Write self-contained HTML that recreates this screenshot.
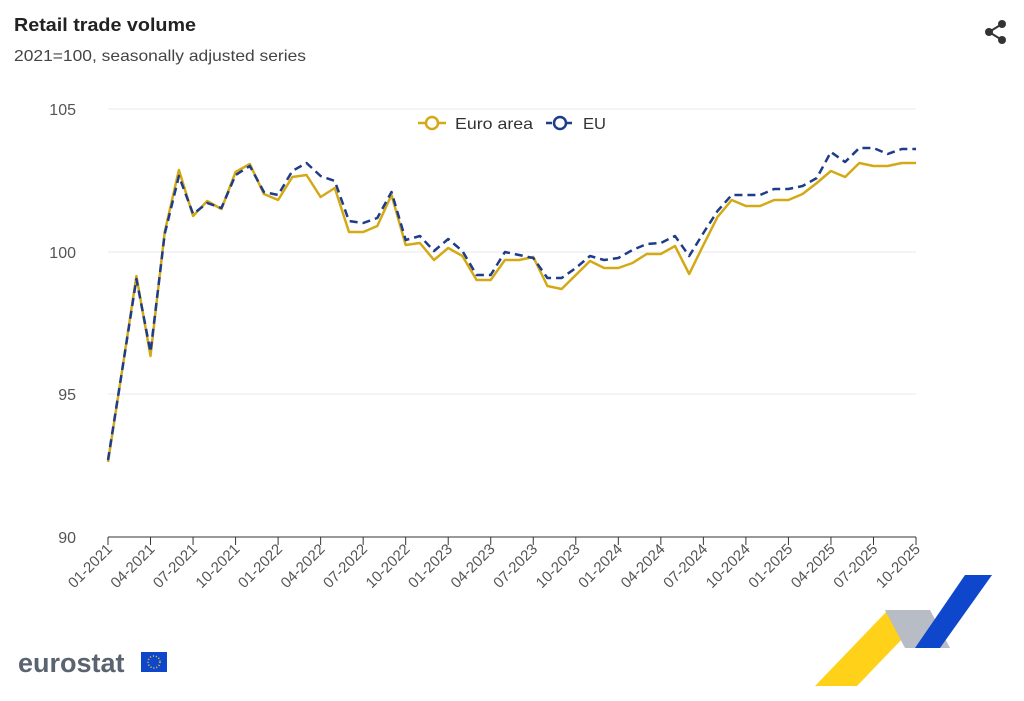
<!DOCTYPE html>
<html><head><meta charset="utf-8"><style>
body{margin:0;width:1024px;height:696px;background:#fff;font-family:"Liberation Sans",Arial,sans-serif;overflow:hidden}
</style></head><body>
<svg width="1024" height="696" viewBox="0 0 1024 696" xmlns="http://www.w3.org/2000/svg" font-family="Liberation Sans, Arial, sans-serif">
<text x="14" y="31" font-size="18" font-weight="bold" fill="#222" textLength="182" lengthAdjust="spacingAndGlyphs">Retail trade volume</text>
<text x="14" y="61" font-size="16" fill="#444" textLength="292" lengthAdjust="spacingAndGlyphs">2021=100, seasonally adjusted series</text>
<g fill="#333"><circle cx="1002" cy="24" r="4"/><circle cx="989" cy="32" r="4"/><circle cx="1002" cy="40" r="4"/></g>
<path d="M1002 24 L989 32 L1002 40" stroke="#333" stroke-width="2" fill="none"/>
<g stroke="#e6e9ef" stroke-width="1">
<line x1="108" y1="109" x2="916" y2="109"/><line x1="108" y1="252" x2="916" y2="252"/><line x1="108" y1="394" x2="916" y2="394"/>
</g>
<line x1="108" y1="537" x2="916" y2="537" stroke="#333" stroke-width="1"/>
<g font-size="16" fill="#555" text-anchor="end">
<text x="76" y="115">105</text><text x="76" y="258">100</text><text x="76" y="400">95</text><text x="76" y="543">90</text>
</g>
<g id="ticks" stroke="#333" stroke-width="1"></g>
<g id="xl" font-size="15" fill="#555" text-anchor="end"></g>
<polyline id="ea" fill="none" stroke="#d4a916" stroke-width="2.5" stroke-linejoin="round"/>
<polyline id="eu" fill="none" stroke="#1f3c88" stroke-width="2.5" stroke-dasharray="8,5" stroke-linejoin="round"/>
<g font-size="16" fill="#333">
<line x1="418" y1="123" x2="446" y2="123" stroke="#d4a916" stroke-width="2.5"/><circle cx="432" cy="123" r="6" fill="#fff" stroke="#d4a916" stroke-width="2.5"/>
<text x="455" y="129" textLength="78" lengthAdjust="spacingAndGlyphs">Euro area</text>
<line x1="546" y1="123" x2="574" y2="123" stroke="#1f3c88" stroke-width="2.5" stroke-dasharray="6,4"/><circle cx="560" cy="123" r="6" fill="#fff" stroke="#1f3c88" stroke-width="2.5"/>
<text x="583" y="129" textLength="23" lengthAdjust="spacingAndGlyphs">EU</text>
</g>
<text x="18" y="672" font-size="27" font-weight="bold" fill="#5a6470">eurostat</text>
<rect x="141" y="652" width="26" height="20" fill="#0e47cb"/>
<circle cx="154" cy="662" r="6" fill="none" stroke="#ffd617" stroke-width="1.5" stroke-dasharray="1,2"/>
<polygon points="815,686 888,610 930,610 857,686" fill="#ffcc00" opacity="0.9"/>
<polygon points="885,610 930,610 950,648 905,648" fill="#b8bcc4"/>
<polygon points="915,648 965,575 992,575 940,648" fill="#0e47cb"/>
</svg>
<script>
var ea=[462,370,276,356,232,170,216,201,209,172,164,194,200,177,175,197,188,232,232,226,195,245,243,260,248,256,280,280,260,260,257,286,289,275,261,268,268,263,254,254,246,274,245,217,200,206,206,200,200,194,183,171,177,163,166,166,163,163];
var eu=[460,370,279,352,234,176,214,203,208,175,166,192,195,171,163,176,181,221,223,218,192,240,236,251,239,251,275,275,252,255,258,278,278,268,256,260,258,250,244,243,236,256,233,211,195,195,195,189,189,186,178,152,162,148,148,154,149,149];
function px(i){return 108+i*808/57}
document.getElementById('ea').setAttribute('points',ea.map((y,i)=>px(i).toFixed(1)+','+y).join(' '));
document.getElementById('eu').setAttribute('points',eu.map((y,i)=>px(i).toFixed(1)+','+y).join(' '));
var t='',l='',m=['01','04','07','10'];
for(var i=0;i<58;i+=3){var x=px(i);t+='<line x1="'+x+'" y1="537" x2="'+x+'" y2="545"/>';
var lab=m[(i/3)%4]+'-'+(2021+Math.floor(i/12));
l+='<text transform="translate('+(x+5)+',550) rotate(-45)">'+lab+'</text>';}
document.getElementById('ticks').innerHTML=t;document.getElementById('xl').innerHTML=l;
</script>
</body></html>
